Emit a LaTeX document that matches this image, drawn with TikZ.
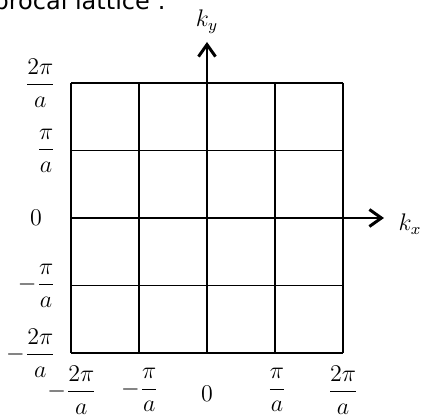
\documentclass[tikz,border=0pt]{standalone}
\usepackage{amsmath}
\usepackage{fontspec}
\newfontfamily\headfont{DejaVu Sans}
\usetikzlibrary{arrows.meta}

\begin{document}
\begin{tikzpicture}[x=0.5pt,y=-0.5pt,font=\fontsize{11.5}{14}\selectfont,
  gridline/.style={black,line width=0.8pt},
  axisline/.style={black,line width=1.1pt,-{Straight Barb[length=6pt,width=8.5pt,line width=1.5pt]}},
  ticklabel/.style={inner sep=0pt}]
  \useasboundingbox (0,0) rectangle (424,416);
  % header, cut off at the left edge
  \node[anchor=base east,inner sep=0pt,font=\headfont\fontsize{12}{14}\selectfont] (title) at (166,10) {reciprocal lattice :};
  % grid
  \foreach \i in {0,...,4} {
    \draw[gridline] (71+68*\i,83) -- (71+68*\i,353);
    \draw[gridline] (71,83+67.5*\i) -- (343,83+67.5*\i);
  }
  % axes
  \coordinate (xstart) at (71,218);
  \coordinate (xend) at (384,218);
  \coordinate (ystart) at (207,353);
  \coordinate (yend) at (207,42);
  \draw[axisline] (xstart) -- (xend);
  \draw[axisline] (ystart) -- (yend);
  \node[ticklabel] (kx) at (410,224) {$k_x$};
  \node[ticklabel] (ky) at (207,22) {$k_y$};
  % ky ticks
  \node[ticklabel,anchor=east] (ky2) at (56,83) {$\dfrac{2\pi}{a}$};
  \node[ticklabel,anchor=east] (ky1) at (56,150.5) {$\dfrac{\pi}{a}$};
  \node[ticklabel] (ky0) at (36,218) {$0$};
  \node[ticklabel,anchor=east] (kym1) at (56,285.5) {$-\dfrac{\pi}{a}$};
  \node[ticklabel,anchor=east] (kym2) at (56,353) {$-\dfrac{2\pi}{a}$};
  % kx ticks
  \node[ticklabel] (kxm2) at (72,390) {$-\dfrac{2\pi}{a}$};
  \node[ticklabel] (kxm1) at (140,390) {$-\dfrac{\pi}{a}$};
  \node[ticklabel] (kx0) at (207,394) {$0$};
  \node[ticklabel] (kx1) at (277,390) {$\dfrac{\pi}{a}$};
  \node[ticklabel] (kx2) at (343,390) {$\dfrac{2\pi}{a}$};
\end{tikzpicture}
\end{document}
